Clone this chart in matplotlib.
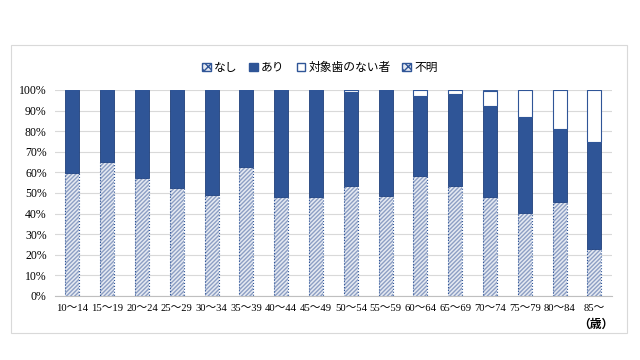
import matplotlib.pyplot as plt
import numpy as np
from matplotlib.patches import Patch, Rectangle

# age groups and shares (%)
ages = ['10～14', '15～19', '20～24', '25～29', '30～34', '35～39', '40～44', '45～49',
        '50～54', '55～59', '60～64', '65～69', '70～74', '75～79', '80～84', '85～']
nashi = [59.7, 65.2, 57.5, 52.5, 49.2, 62.5, 48.2, 48.2,
         53.2, 48.7, 58.0, 53.2, 48.2, 40.4, 45.5, 22.6]
ari = [40.3, 34.8, 42.5, 47.5, 50.8, 37.5, 51.8, 51.8,
       45.6, 51.3, 39.2, 44.8, 44.0, 46.6, 35.5, 52.3]
no_teeth = [0, 0, 0, 0, 0, 0, 0, 0,
            1.2, 0, 2.8, 2.0, 7.3, 13.0, 19.0, 25.1]
unknown = [0, 0, 0, 0, 0, 0, 0, 0,
           0, 0, 0, 0, 0.5, 0, 0, 0]

serif = ['Liberation Serif', 'Noto Sans CJK JP']
sans = ['Noto Sans CJK JP', 'DejaVu Sans']
dark = '#2F5597'
hatch_c = '#8d9fc4'

fig = plt.figure(figsize=(6.4, 3.6), dpi=100)
ax = fig.add_axes([0.086, 0.178, 0.870, 0.572])

x = np.arange(len(ages))
w = 0.4
nashi = np.array(nashi)
ari = np.array(ari)
no_teeth = np.array(no_teeth)
unknown = np.array(unknown)

# なし : hatched, drawn twice so hatch is lighter than the outline
ax.bar(x, nashi, w, color='#e6eaf2', edgecolor=hatch_c, hatch='////////', linewidth=0, zorder=3)
ax.bar(x, nashi, w, color='none', edgecolor=dark, linewidth=0.8, linestyle=':', zorder=4)
ax.bar(x, ari, w, bottom=nashi, color=dark, edgecolor='#1f3f7a', linewidth=0.6, zorder=3)
b3 = nashi + ari
ax.bar(x, no_teeth, w, bottom=b3, color='white', edgecolor=dark, linewidth=0.8, zorder=3)
ax.bar(x, unknown, w, bottom=b3 + no_teeth, color=dark, edgecolor=dark, linewidth=0.6, zorder=3)

ax.set_ylim(0, 100)
ax.set_xlim(-0.5, len(ages) - 0.5)
ax.set_yticks(np.arange(0, 101, 10))
ax.set_yticklabels([f'{v}%' for v in range(0, 101, 10)], family=serif, fontsize=8.5)
ax.set_xticks(x)
ax.set_xticklabels(ages, family=serif, fontsize=7.7)
ax.tick_params(length=0, pad=6)
ax.grid(axis='y', color='#d9d9d9', linewidth=0.8, zorder=0)
for s in ['top', 'right', 'left']:
    ax.spines[s].set_visible(False)
ax.spines['bottom'].set_color('#bfbfbf')

handles = [Patch(facecolor='#e6eaf2', edgecolor=dark, hatch='xxxx'),
           Patch(facecolor=dark, edgecolor=dark),
           Patch(facecolor='white', edgecolor=dark),
           Patch(facecolor='#e6eaf2', edgecolor=dark, hatch='xxxx')]
labels = ['なし', 'あり', '対象歯のない者', '不明']
fig.legend(handles, labels, loc='center', bbox_to_anchor=(0.5, 0.813), ncol=4,
           frameon=False, prop={'family': sans, 'size': 8.5}, handlelength=0.7,
           handleheight=0.7, handletextpad=0.3, columnspacing=1.0)

fig.text(0.958, 0.09, '（歳）', family=serif, fontsize=8.5, fontweight='bold', ha='right')

fig.patches.append(Rectangle((0.017, 0.075), 0.962, 0.8, transform=fig.transFigure,
                             fill=False, edgecolor='#d9d9d9', linewidth=0.8))

fig.savefig('out.png', dpi=100)
